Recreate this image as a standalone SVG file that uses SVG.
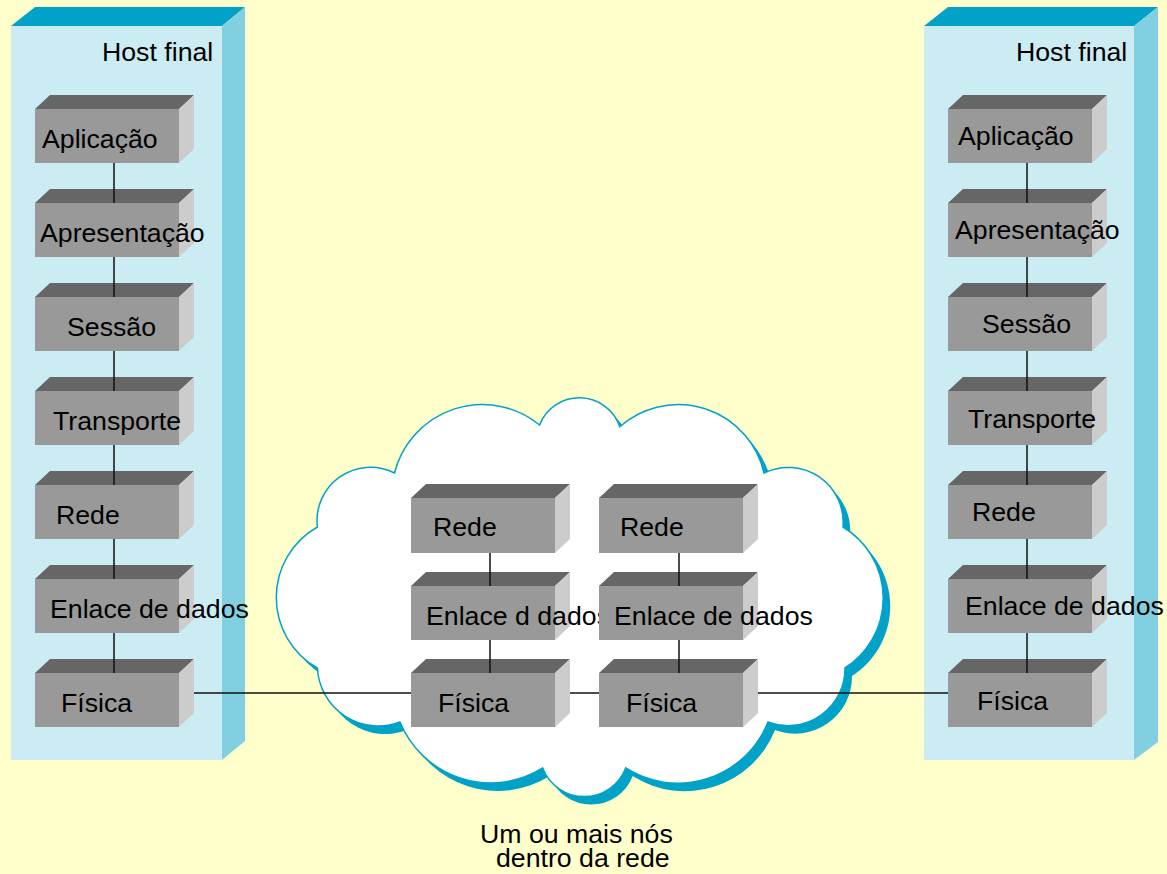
<svg xmlns="http://www.w3.org/2000/svg" width="1167" height="874" viewBox="0 0 1167 874">
<defs>
<style>
.bg{fill:#FFFFCC}
.hf{fill:#CCECF4}
.ht{fill:#00A2C8}
.hr{fill:#80D0E2}
.bf{fill:#999999}
.bt{fill:#666666}
.br{fill:#CCCCCC}
.t{font-family:"Liberation Sans",Arial,Helvetica,sans-serif;font-size:26.7px;fill:#000}
.ln{stroke:#111;stroke-width:1.5;fill:none}
.cs{fill:#00A2C8}
.cw{fill:#FFFFFF;stroke:#00A2C8;stroke-width:1.5}
</style>
<path id="cloud" d="M539.6,425 A42.7,42.7 0 0 1 619.8,426.7 A88,88 0 0 1 764,473 A55,55 0 0 1 843,527 A83,83 0 0 1 845,668 A57,57 0 0 1 768,722 A97,97 0 0 1 625.7,768 A44.4,44.4 0 0 1 542.7,768 A98,98 0 0 1 400,722 A61,61 0 0 1 317.4,668 A81,81 0 0 1 317.4,527 A53.4,53.4 0 0 1 394.5,473 A90.5,90.5 0 0 1 539.6,425 Z"/>
</defs>
<rect class="bg" x="0" y="0" width="1167" height="874"/>

<g id="host-left">
<rect class="hf" x="11" y="26" width="211" height="734"/>
<polygon class="ht" points="11,26 35,7 245,7 222,26"/>
<polygon class="hr" points="222,26 245,7 245,741 222,760"/>
<text class="t" x="102" y="61">Host final</text>
</g>
<g id="host-right">
<rect class="hf" x="924" y="26" width="210" height="734"/>
<polygon class="ht" points="924,26 948,7 1158,7 1134,26"/>
<polygon class="hr" points="1134,26 1158,7 1158,742 1134,760"/>
<text class="t" x="1016" y="61">Host final</text>
</g>

<g id="cloud-net">
<use href="#cloud" class="cs" transform="translate(7,8)"/>
<use href="#cloud" class="cw"/>
</g>

<!-- Left host layers -->
<g id="L-aplicacao"><rect class="bf" x="35" y="109" width="144" height="54"/><polygon class="bt" points="35,109 50,95 194,95 179,109"/><polygon class="br" points="179,109 194,95 194,149 179,163"/><text class="t" x="42" y="148">Aplicação</text></g>
<g id="L-apresentacao"><rect class="bf" x="35" y="203" width="144" height="54"/><polygon class="bt" points="35,203 50,189 194,189 179,203"/><polygon class="br" points="179,203 194,189 194,243 179,257"/><text class="t" x="40" y="242">Apresentação</text></g>
<g id="L-sessao"><rect class="bf" x="35" y="297" width="144" height="54"/><polygon class="bt" points="35,297 50,283 194,283 179,297"/><polygon class="br" points="179,297 194,283 194,337 179,351"/><text class="t" x="67" y="336">Sessão</text></g>
<g id="L-transporte"><rect class="bf" x="35" y="391" width="144" height="54"/><polygon class="bt" points="35,391 50,377 194,377 179,391"/><polygon class="br" points="179,391 194,377 194,431 179,445"/><text class="t" x="53" y="430">Transporte</text></g>
<g id="L-rede"><rect class="bf" x="35" y="485" width="144" height="54"/><polygon class="bt" points="35,485 50,471 194,471 179,485"/><polygon class="br" points="179,485 194,471 194,525 179,539"/><text class="t" x="56" y="524">Rede</text></g>
<g id="L-enlace"><rect class="bf" x="35" y="579" width="144" height="54"/><polygon class="bt" points="35,579 50,565 194,565 179,579"/><polygon class="br" points="179,579 194,565 194,619 179,633"/><text class="t" x="50" y="618">Enlace de dados</text></g>
<g id="L-fisica"><rect class="bf" x="35" y="673" width="144" height="54"/><polygon class="bt" points="35,673 50,659 194,659 179,673"/><polygon class="br" points="179,673 194,659 194,713 179,727"/><text class="t" x="61" y="712">Física</text></g>

<!-- Right host layers -->
<g id="R-aplicacao"><rect class="bf" x="948" y="109" width="144" height="54"/><polygon class="bt" points="948,109 963,95 1107,95 1092,109"/><polygon class="br" points="1092,109 1107,95 1107,149 1092,163"/><text class="t" x="958" y="145">Aplicação</text></g>
<g id="R-apresentacao"><rect class="bf" x="948" y="203" width="144" height="54"/><polygon class="bt" points="948,203 963,189 1107,189 1092,203"/><polygon class="br" points="1092,203 1107,189 1107,243 1092,257"/><text class="t" x="955" y="239">Apresentação</text></g>
<g id="R-sessao"><rect class="bf" x="948" y="297" width="144" height="54"/><polygon class="bt" points="948,297 963,283 1107,283 1092,297"/><polygon class="br" points="1092,297 1107,283 1107,337 1092,351"/><text class="t" x="982" y="333">Sessão</text></g>
<g id="R-transporte"><rect class="bf" x="948" y="391" width="144" height="54"/><polygon class="bt" points="948,391 963,377 1107,377 1092,391"/><polygon class="br" points="1092,391 1107,377 1107,431 1092,445"/><text class="t" x="968" y="428">Transporte</text></g>
<g id="R-rede"><rect class="bf" x="948" y="485" width="144" height="54"/><polygon class="bt" points="948,485 963,471 1107,471 1092,485"/><polygon class="br" points="1092,485 1107,471 1107,525 1092,539"/><text class="t" x="972" y="521">Rede</text></g>
<g id="R-enlace"><rect class="bf" x="948" y="579" width="144" height="54"/><polygon class="bt" points="948,579 963,565 1107,565 1092,579"/><polygon class="br" points="1092,579 1107,565 1107,619 1092,633"/><text class="t" x="965" y="615">Enlace de dados</text></g>
<g id="R-fisica"><rect class="bf" x="948" y="673" width="144" height="54"/><polygon class="bt" points="948,673 963,659 1107,659 1092,673"/><polygon class="br" points="1092,673 1107,659 1107,713 1092,727"/><text class="t" x="977" y="710">Física</text></g>

<!-- Cloud node 1 -->
<g id="N1-rede"><rect class="bf" x="411" y="498" width="144" height="55"/><polygon class="bt" points="411,498 426,484 570,484 555,498"/><polygon class="br" points="555,498 570,484 570,539 555,553"/><text class="t" x="433" y="536">Rede</text></g>
<g id="N1-enlace"><rect class="bf" x="411" y="586" width="144" height="54"/><polygon class="bt" points="411,586 426,572 570,572 555,586"/><polygon class="br" points="555,586 570,572 570,626 555,640"/><text class="t" x="426" y="625">Enlace d dados</text></g>
<g id="N1-fisica"><rect class="bf" x="411" y="673" width="144" height="54"/><polygon class="bt" points="411,673 426,659 570,659 555,673"/><polygon class="br" points="555,673 570,659 570,713 555,727"/><text class="t" x="438" y="712">Física</text></g>

<!-- Cloud node 2 -->
<g id="N2-rede"><rect class="bf" x="599" y="498" width="144" height="55"/><polygon class="bt" points="599,498 614,484 758,484 743,498"/><polygon class="br" points="743,498 758,484 758,539 743,553"/><text class="t" x="620" y="536">Rede</text></g>
<g id="N2-enlace"><rect class="bf" x="599" y="586" width="144" height="54"/><polygon class="bt" points="599,586 614,572 758,572 743,586"/><polygon class="br" points="743,586 758,572 758,626 743,640"/><text class="t" x="614" y="625">Enlace de dados</text></g>
<g id="N2-fisica"><rect class="bf" x="599" y="673" width="144" height="54"/><polygon class="bt" points="599,673 614,659 758,659 743,673"/><polygon class="br" points="743,673 758,659 758,713 743,727"/><text class="t" x="626" y="712">Física</text></g>

<g id="connectors" class="ln">
<line x1="114" y1="163" x2="114" y2="203"/>
<line x1="114" y1="257" x2="114" y2="297"/>
<line x1="114" y1="351" x2="114" y2="391"/>
<line x1="114" y1="445" x2="114" y2="485"/>
<line x1="114" y1="539" x2="114" y2="579"/>
<line x1="114" y1="633" x2="114" y2="673"/>
<line x1="1027" y1="163" x2="1027" y2="203"/>
<line x1="1027" y1="257" x2="1027" y2="297"/>
<line x1="1027" y1="351" x2="1027" y2="391"/>
<line x1="1027" y1="445" x2="1027" y2="485"/>
<line x1="1027" y1="539" x2="1027" y2="579"/>
<line x1="1027" y1="633" x2="1027" y2="673"/>
<line x1="490" y1="553" x2="490" y2="586"/>
<line x1="490" y1="640" x2="490" y2="673"/>
<line x1="679" y1="553" x2="679" y2="586"/>
<line x1="679" y1="640" x2="679" y2="673"/>
<line x1="194" y1="693" x2="411" y2="693"/>
<line x1="570" y1="693" x2="599" y2="693"/>
<line x1="758" y1="693" x2="948" y2="693"/>
</g>

<g id="caption">
<text class="t"><tspan x="480" y="843">Um ou mais nós</tspan><tspan x="496" y="867">dentro da rede</tspan></text>
</g>
</svg>
